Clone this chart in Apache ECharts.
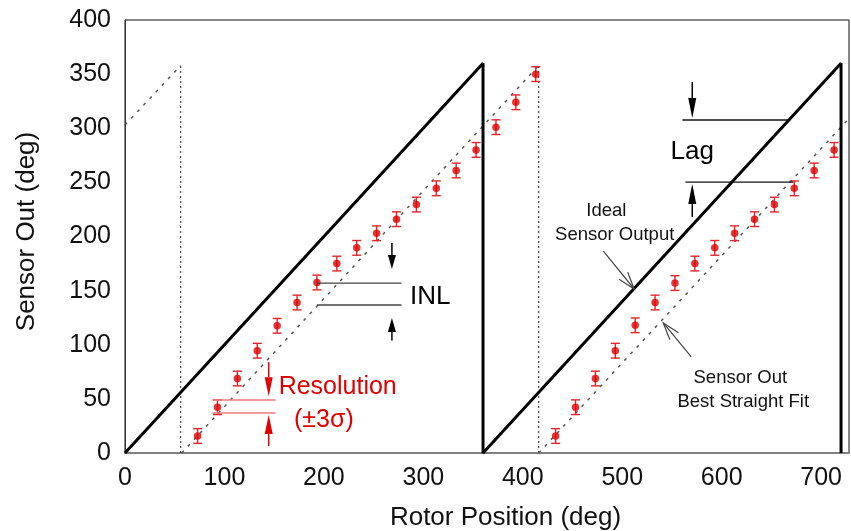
<!DOCTYPE html>
<html>
<head>
<meta charset="utf-8">
<title>Sensor Out vs Rotor Position</title>
<style>
  html, body { margin: 0; padding: 0; background: #fff; }
  #main { width: 851px; height: 531px; }
</style>
<script src="https://cdn.jsdelivr.net/npm/echarts@6/dist/echarts.min.js"></script>
</head>
<body>
<div id="main"></div>
<script>
// ---- data (deg) ----
// measured sensor output, first turn
var rotorPos1 = [73, 93, 113, 133, 153, 173, 193, 213, 233, 253, 273, 293, 313, 333, 353, 373, 393, 413];
var sensorOut1 = [15.7, 42.3, 68.8, 94.5, 117.5, 139, 157.5, 175, 189.5, 203, 216, 229.5, 244.5, 261, 280, 301, 324, 350];
var sensorErr1 = [6.8, 6.8, 6.8, 6.8, 6.8, 6.8, 6.8, 6.8, 6.8, 6.8, 6.8, 6.8, 6.8, 6.8, 6.8, 6.8, 6.8, 6.8];
// second turn
var rotorPos2 = [433, 453, 473, 493, 513, 533, 553, 573, 593, 613, 633, 653, 673, 693, 713];
var sensorOut2 = [15.7, 42.3, 68.8, 94.5, 118, 139, 157, 175, 189.5, 203, 216, 229.5, 244.5, 261, 280];
var sensorErr2 = [6.8, 6.8, 6.8, 6.8, 6.8, 6.8, 6.8, 6.8, 6.8, 6.8, 6.8, 6.8, 6.8, 6.8, 6.8];
// ideal sensor output (sawtooth)
var idealX = [0, 360, 360, 720, 720];
var idealY = [0, 360, 0, 360, 0];
// best straight fit (null = break)
var fitX = [0, 56, null, 57, 416, null, 416, 728];
var fitY = [303, 358, null, 0, 358, null, 0, 309];
// dotted wrap guides
var guideX = [56, 416];
var guideTop = [358, 358];

var FONT = '"Liberation Sans", Arial, sans-serif';

(function() {
  var myChart = echarts.init(document.getElementById('main'));

  function pairs(xs, ys) {
    return xs.map(function(x, i) {
      return x === null ? ['-', '-'] : [x, ys[i]];
    });
  }
  function bars(xs, ys, es) {
    return xs.map(function(x, i) { return [x, ys[i] - es[i], ys[i] + es[i]]; });
  }

  var guideSeries = guideX.map(function(x, i) {
    return {
      type: 'line', silent: true, symbol: 'none', z: 1,
      data: [[x, 0], [x, guideTop[i]]],
      lineStyle: { color: '#222', width: 1, type: [2, 3] }
    };
  });

  // 误差棒: vertical bar + two caps
  var errorBarRender = function(params, api) {
    var x = api.value(0);
    var lo = api.coord([x, api.value(1)]);
    var hi = api.coord([x, api.value(2)]);
    var w = 4.5;
    var st = { stroke: '#e5222a', lineWidth: 1.4 };
    return {
      type: 'group',
      children: [
        { type: 'line', shape: { x1: hi[0], y1: hi[1], x2: lo[0], y2: lo[1] }, style: st },
        { type: 'line', shape: { x1: hi[0] - w, y1: hi[1], x2: hi[0] + w, y2: hi[1] }, style: st },
        { type: 'line', shape: { x1: lo[0] - w, y1: lo[1], x2: lo[0] + w, y2: lo[1] }, style: st }
      ]
    };
  };

  var option = {
    animation: false,
    textStyle: { fontFamily: FONT },
    grid: {
      left: 125, right: 2, top: 20, bottom: 78,
      show: true, borderColor: '#111', borderWidth: 1
    },
    xAxis: {
      type: 'value', min: 0, max: 728, interval: 100,
      axisLine: { show: true, lineStyle: { color: '#808080', width: 2 } },
      axisTick: { show: false },
      splitLine: { show: false },
      axisLabel: { color: '#111', fontSize: 25, margin: 13, showMaxLabel: false, fontFamily: FONT }
    },
    yAxis: {
      type: 'value', min: 0, max: 400, interval: 50,
      axisLine: { show: true, lineStyle: { color: '#333', width: 1 } },
      axisTick: { show: false },
      splitLine: { show: false },
      axisLabel: { color: '#111', fontSize: 25, margin: 14, fontFamily: FONT }
    },
    series: guideSeries.concat([
      {
        name: 'Best Straight Fit', type: 'line', symbol: 'none', z: 2,
        connectNulls: false,
        data: pairs(fitX, fitY),
        lineStyle: { color: '#555', width: 1.5, type: [3, 6] }
      },
      {
        name: 'Ideal Sensor Output', type: 'line', symbol: 'none', z: 3,
        data: pairs(idealX, idealY),
        lineStyle: { color: '#000', width: 3 }
      },
      {
        name: 'err1', type: 'custom', z: 4,
        renderItem: errorBarRender,
        data: bars(rotorPos1, sensorOut1, sensorErr1)
      },
      {
        name: 'err2', type: 'custom', z: 4,
        renderItem: errorBarRender,
        data: bars(rotorPos2, sensorOut2, sensorErr2)
      },
      {
        name: 'Sensor Out', type: 'scatter', z: 5,
        symbolSize: 7.5,
        itemStyle: { color: '#e00000' },
        data: pairs(rotorPos1.concat(rotorPos2), sensorOut1.concat(sensorOut2))
      }
    ])
  };
  myChart.setOption(option);

  // ---- annotations, anchored in data units ----
  function P(x, y) { return myChart.convertToPixel({ gridIndex: 0 }, [x, y]); }
  function hline(x1, x2, y, color, w) {
    var a = P(x1, y), b = P(x2, y);
    return { type: 'line', z: 10, shape: { x1: a[0], y1: a[1], x2: b[0], y2: b[1] }, style: { stroke: color, lineWidth: w } };
  }
  function vArrow(x, yFrom, yTo, color, headLen, headW) {
    var f = P(x, yFrom), t = P(x, yTo);
    var s = t[1] > f[1] ? 1 : -1;
    var base = t[1] - s * headLen;
    return [
      { type: 'line', z: 10, shape: { x1: f[0], y1: f[1], x2: f[0], y2: base }, style: { stroke: color, lineWidth: 1.5 } },
      { type: 'polygon', z: 10, shape: { points: [[t[0] - headW / 2, base], [t[0] + headW / 2, base], [t[0], t[1]]] }, style: { fill: color } }
    ];
  }
  function pointer(x1, y1, x2, y2) {
    var a = P(x1, y1), b = P(x2, y2);
    var ang = Math.atan2(a[1] - b[1], a[0] - b[0]);
    var L = 18, d = 18 * Math.PI / 180;
    var st = { stroke: '#444', lineWidth: 1.2 };
    return [
      { type: 'line', z: 10, shape: { x1: a[0], y1: a[1], x2: b[0], y2: b[1] }, style: st },
      { type: 'polyline', z: 10, shape: { points: [
        [b[0] + L * Math.cos(ang + d), b[1] + L * Math.sin(ang + d)],
        [b[0], b[1]],
        [b[0] + L * Math.cos(ang - d), b[1] + L * Math.sin(ang - d)]
      ] }, style: st }
    ];
  }
  function label(x, y, text, size, color, align) {
    var p = P(x, y);
    return {
      type: 'text', z: 11, x: p[0], y: p[1],
      style: {
        text: text, fill: color, font: size + 'px ' + FONT,
        align: align, verticalAlign: 'middle',
        textAlign: align, textVerticalAlign: 'middle'
      }
    };
  }

  var red = '#e00000';
  var g = [];
  // resolution
  g.push(hline(88, 151.5, 49, '#ee7b7e', 1.5));
  g.push(hline(88, 151.5, 37, '#ee7b7e', 1.5));
  g = g.concat(vArrow(144.5, 84, 52.5, red, 19, 8));
  g = g.concat(vArrow(144.5, 6.5, 35, red, 19, 8));
  g.push(label(154.5, 61, 'Resolution', 25, red, 'left'));
  g.push(label(200, 30.5, '(\u00b13\u03c3)', 25, red, 'center'));
  // INL
  g.push(hline(193, 278, 157, '#444', 1.3));
  g.push(hline(193, 278, 136.7, '#444', 1.3));
  g = g.concat(vArrow(268.4, 194, 170, '#000', 14, 8));
  g = g.concat(vArrow(268.4, 104, 124.7, '#000', 14, 8));
  g.push(label(286.5, 144, 'INL', 26, '#000', 'left'));
  // Lag
  g.push(hline(560.5, 669, 307.6, '#111', 1.3));
  g.push(hline(563.5, 672, 250.3, '#111', 1.3));
  g = g.concat(vArrow(570.4, 342.7, 309.5, '#000', 20, 8));
  g = g.concat(vArrow(570.4, 218, 248.5, '#000', 20, 8));
  g.push(label(570.4, 278, 'Lag', 26, '#000', 'center'));
  // callouts
  g.push(label(484, 223.6, 'Ideal', 18.5, '#111', 'center'));
  g.push(label(492.4, 201.4, 'Sensor Output', 18.5, '#111', 'center'));
  g = g.concat(pointer(481, 186.6, 512, 151.5));
  g.push(label(618.7, 69.3, 'Sensor Out', 18.5, '#111', 'center'));
  g.push(label(621.7, 47.1, 'Best Straight Fit', 18.5, '#111', 'center'));
  g = g.concat(pointer(569.4, 88.7, 541.3, 120.1));
  // axis titles
  g.push({
    type: 'text', z: 11, x: 26.5, y: 231.5, rotation: Math.PI / 2,
    style: { text: 'Sensor Out (deg)', fill: '#111', font: '26px ' + FONT,
      align: 'center', verticalAlign: 'middle', textAlign: 'center', textVerticalAlign: 'middle' }
  });
  g.push({
    type: 'text', z: 11, x: 505.5, y: 518,
    style: { text: 'Rotor Position (deg)', fill: '#111', font: '26px ' + FONT,
      align: 'center', verticalAlign: 'middle', textAlign: 'center', textVerticalAlign: 'middle' }
  });

  myChart.setOption({ graphic: g });

  window.addEventListener('resize', function() {
    myChart.resize();
  });
})();
</script>
</body>
</html>
